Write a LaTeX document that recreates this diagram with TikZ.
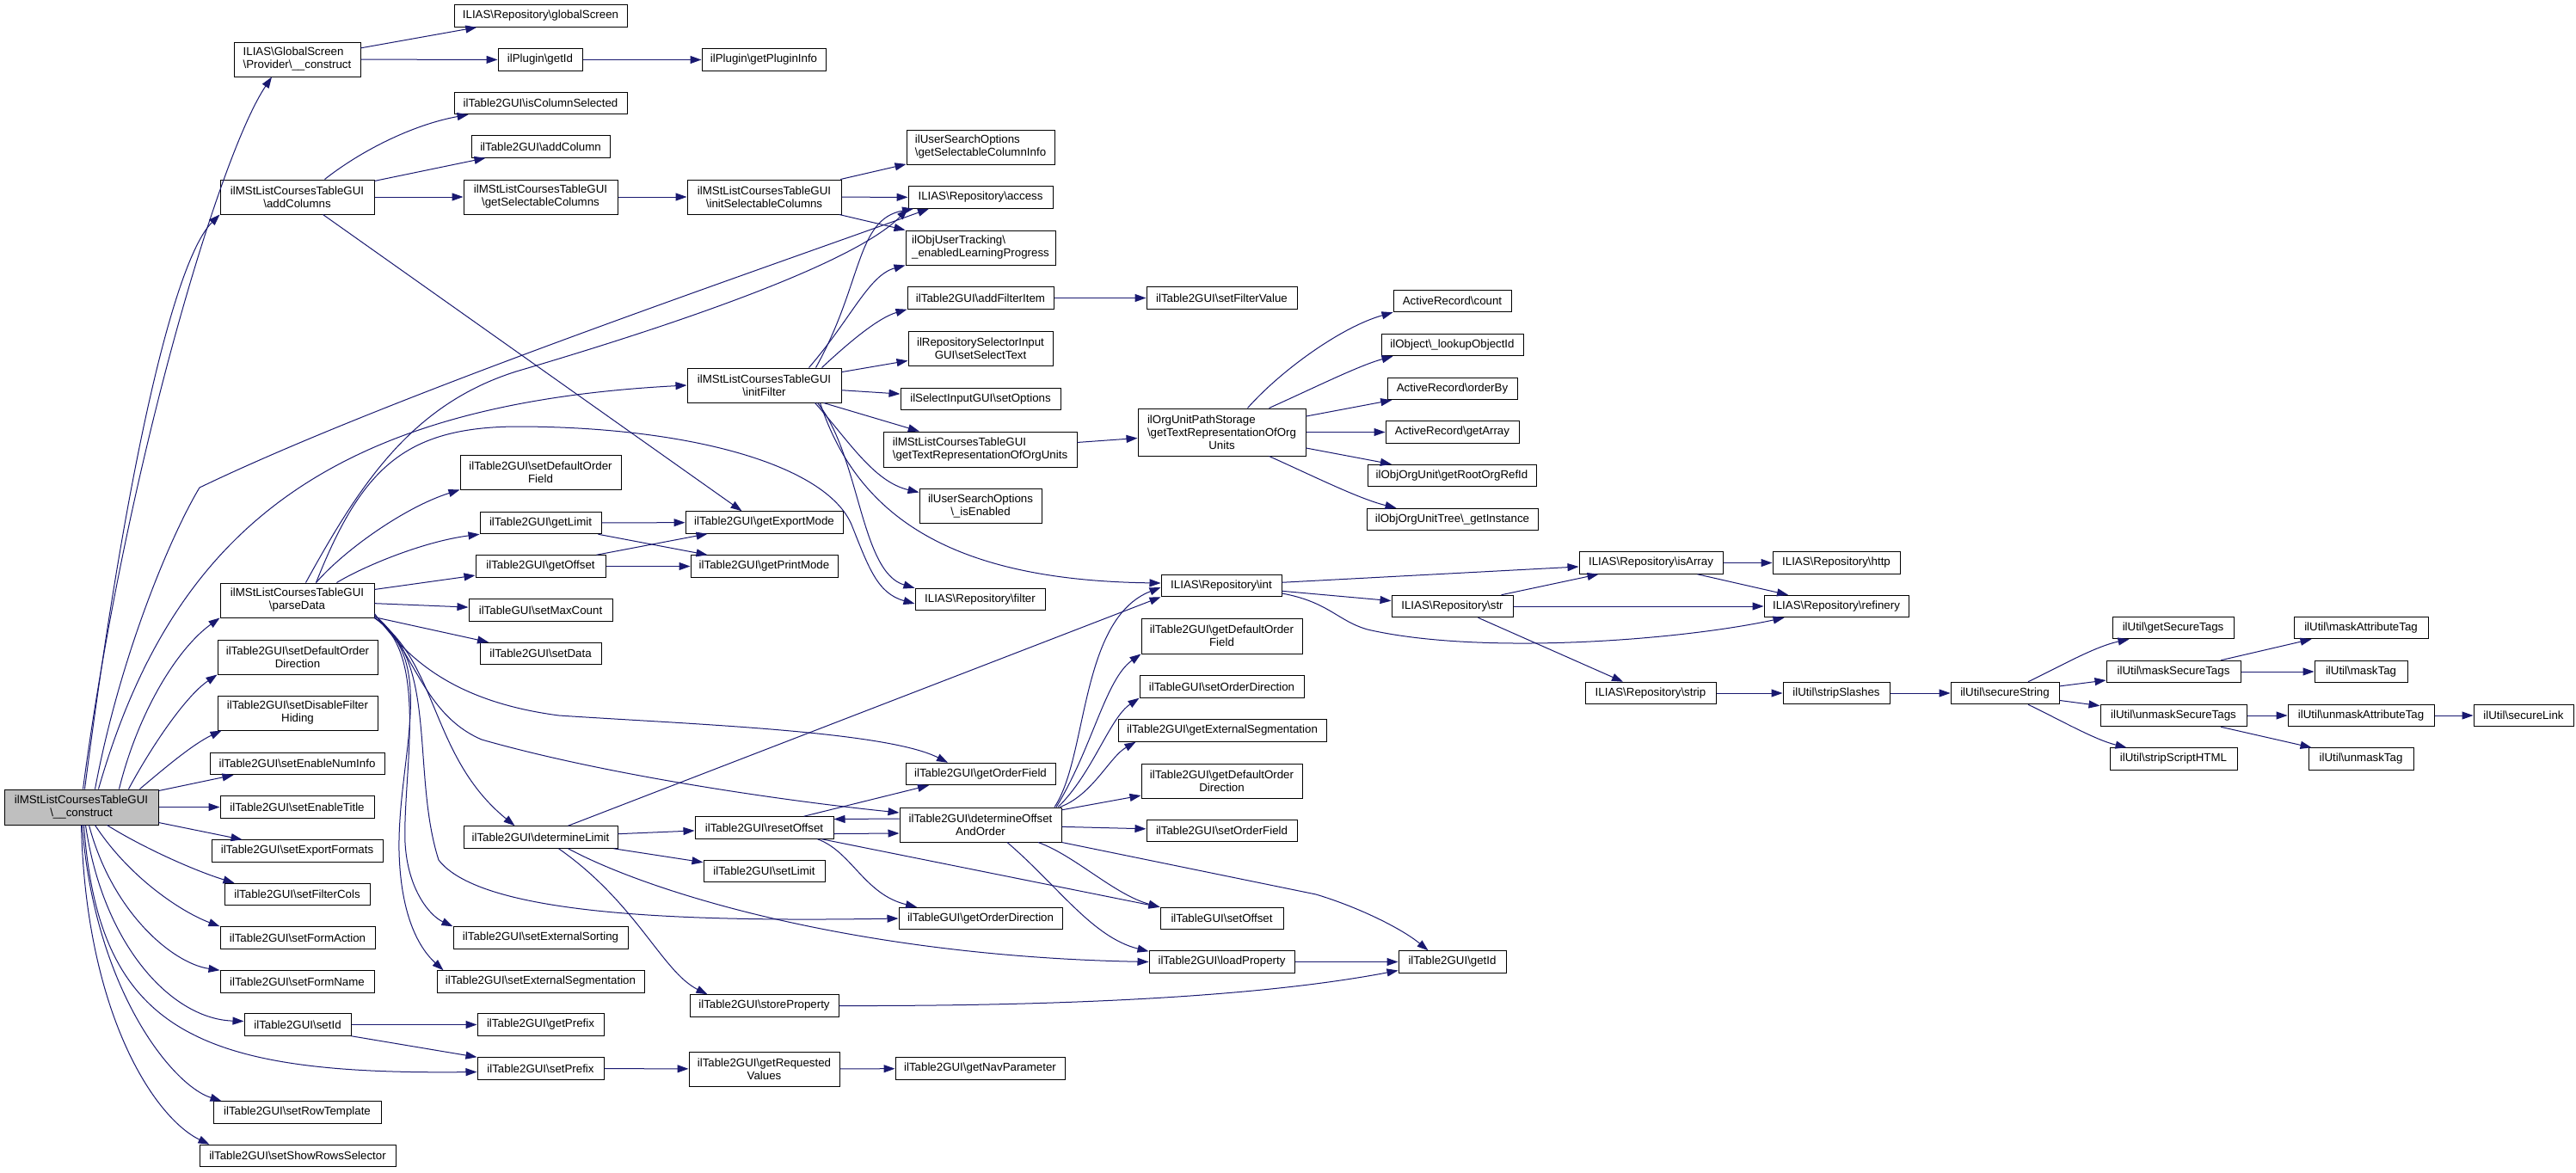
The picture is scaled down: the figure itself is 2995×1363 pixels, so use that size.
\documentclass[tikz,border=0pt]{standalone}
\usepackage{fontspec}
\setmainfont{Liberation Sans}
\usetikzlibrary{arrows.meta}
\definecolor{eb}{HTML}{191970}
\definecolor{rootgray}{HTML}{BFBFBF}
\newcommand{\BSL}{\textbackslash}
\newcommand{\nfont}{\fontsize{13.3}{15}\selectfont}
\tikzset{
  nd/.style={draw=black, line width=1pt, fill=white, inner sep=0pt, minimum height=25.5pt, font=\nfont, align=center},
  e/.style={draw=eb, line width=1pt, -{Triangle[length=13pt,width=9pt]}}
}
\newcommand\ND[5]{\node[nd,minimum width=#4pt] (#1) at (#2,-#3) {#5};}
\newcommand\NDB[6]{\node[nd,minimum width=#4pt,minimum height=#5pt] (#1) at (#2,-#3) {#6};}
\newcommand\NDL[6]{\node[nd,align=left,minimum width=#4pt,minimum height=#5pt] (#1) at (#2,-#3) {#6};}
\begin{document}
\begin{tikzpicture}[x=1pt,y=1pt]
\useasboundingbox (0,0) rectangle (2995,-1363);
\fill[white] (0,0) rectangle (2995,-1363);

% ---------- nodes ----------
\node[nd,fill=rootgray,minimum width=179pt,minimum height=41pt] (R) at (94.5,-938.5) {ilMStListCoursesTableGUI\\\BSL\_\_construct};
\NDL{prov}{345.5}{69}{147}{40}{ILIAS\BSL GlobalScreen\\\BSL Provider\BSL\_\_construct}
\ND{gscreen}{628.5}{18.5}{201}{ILIAS\BSL Repository\BSL globalScreen}
\ND{plgetid}{628}{69.5}{98}{ilPlugin\BSL getId}
\ND{plinfo}{888}{69.5}{144}{ilPlugin\BSL getPluginInfo}
\ND{iscolsel}{628.5}{120}{201}{ilTable2GUI\BSL isColumnSelected}
\ND{addcol}{628.5}{170.5}{161}{ilTable2GUI\BSL addColumn}
\NDB{addcols}{345.5}{229}{179}{40}{ilMStListCoursesTableGUI\\\BSL addColumns}
\NDB{getselcols}{628.5}{229}{179}{40}{ilMStListCoursesTableGUI\\\BSL getSelectableColumns}
\NDB{initselcols}{888.5}{229}{179}{40}{ilMStListCoursesTableGUI\\\BSL initSelectableColumns}
\NDL{selcolinfo}{1140}{171}{172}{40}{ilUserSearchOptions\\\BSL getSelectableColumnInfo}
\ND{access}{1140}{229.5}{168}{ILIAS\BSL Repository\BSL access}
\NDL{enlp}{1140}{288}{174}{40}{ilObjUserTracking\BSL\\\_enabledLearningProgress}
\ND{addfilter}{1140}{346.5}{170}{ilTable2GUI\BSL addFilterItem}
\ND{setfiltervalue}{1420.5}{346.5}{175}{ilTable2GUI\BSL setFilterValue}
\NDB{selecttext}{1140}{405}{168}{40}{ilRepositorySelectorInput\\GUI\BSL setSelectText}
\NDB{initfilter}{888.5}{448}{179}{40}{ilMStListCoursesTableGUI\\\BSL initFilter}
\ND{setoptions}{1140}{464}{186}{ilSelectInputGUI\BSL setOptions}
\NDL{msttext}{1139.5}{522.5}{225}{41}{ilMStListCoursesTableGUI\\\BSL getTextRepresentationOfOrgUnits}
\NDB{orgtext}{1420.5}{502.5}{195}{55}{\rlap{ilOrgUnitPathStorage}\phantom{\BSL getTextRepresentationOfOrg}\\\BSL getTextRepresentationOfOrg\\Units}
\ND{arcount}{1688.5}{350}{137}{ActiveRecord\BSL count}
\ND{lookupobj}{1688.5}{401}{165}{ilObject\BSL\_lookupObjectId}
\ND{orderby}{1688.5}{452}{151}{ActiveRecord\BSL orderBy}
\ND{getarray}{1688.5}{502.5}{155}{ActiveRecord\BSL getArray}
\ND{rootorg}{1688}{553}{196}{ilObjOrgUnit\BSL getRootOrgRefId}
\ND{orgtree}{1688.5}{604}{199}{ilObjOrgUnitTree\BSL\_getInstance}
\NDB{isenabled}{1140}{588}{142}{40}{ilUserSearchOptions\\\BSL\_isEnabled}
\ND{getexport}{888.5}{607.5}{183}{ilTable2GUI\BSL getExportMode}
\ND{getprint}{888.5}{658.5}{171}{ilTable2GUI\BSL getPrintMode}
\ND{filter}{1139.5}{697}{151}{ILIAS\BSL Repository\BSL filter}
\ND{int}{1420}{681}{140}{ILIAS\BSL Repository\BSL int}
\ND{isarray}{1919.5}{654.5}{167}{ILIAS\BSL Repository\BSL isArray}
\ND{http}{2135}{654.5}{148}{ILIAS\BSL Repository\BSL http}
\ND{str}{1688.5}{705}{141}{ILIAS\BSL Repository\BSL str}
\ND{refinery}{2135}{705}{168}{ILIAS\BSL Repository\BSL refinery}
\ND{strip}{1919}{806}{152}{ILIAS\BSL Repository\BSL strip}
\ND{stripslashes}{2135}{806}{124}{ilUtil\BSL stripSlashes}
\ND{securestring}{2331}{806}{126}{ilUtil\BSL secureString}
\ND{getsecuretags}{2526.5}{730}{141}{ilUtil\BSL getSecureTags}
\ND{masksecuretags}{2527}{781}{156}{ilUtil\BSL maskSecureTags}
\ND{unmasksecuretags}{2527}{832}{170}{ilUtil\BSL unmaskSecureTags}
\ND{stripscript}{2527}{882.5}{148}{ilUtil\BSL stripScriptHTML}
\ND{maskattr}{2745}{730}{156}{ilUtil\BSL maskAttributeTag}
\ND{masktag}{2745}{781}{108}{ilUtil\BSL maskTag}
\ND{unmaskattr}{2745}{832}{170}{ilUtil\BSL unmaskAttributeTag}
\ND{unmasktag}{2745}{882.5}{122}{ilUtil\BSL unmaskTag}
\ND{securelink}{2934}{832}{116}{ilUtil\BSL secureLink}
\NDB{setdeforderfield}{628.5}{549}{187}{40}{ilTable2GUI\BSL setDefaultOrder\\Field}
\ND{getlimit}{628.5}{608}{141}{ilTable2GUI\BSL getLimit}
\ND{getoffset}{628.5}{658.5}{151}{ilTable2GUI\BSL getOffset}
\NDB{parsedata}{345.5}{698}{179}{40}{ilMStListCoursesTableGUI\\\BSL parseData}
\ND{setmaxcount}{628.5}{709.5}{167}{ilTableGUI\BSL setMaxCount}
\ND{setdata}{628.5}{760}{141}{ilTable2GUI\BSL setData}
\NDB{setdeforderdir}{346}{764}{186}{40}{ilTable2GUI\BSL setDefaultOrder\\Direction}
\NDB{setdisfilter}{346}{829}{186}{40}{ilTable2GUI\BSL setDisableFilter\\Hiding}
\ND{setenablenum}{345.5}{888}{203}{ilTable2GUI\BSL setEnableNumInfo}
\ND{setenabletitle}{345.5}{938.5}{179}{ilTable2GUI\BSL setEnableTitle}
\ND{setexportformats}{345.5}{989.5}{199}{ilTable2GUI\BSL setExportFormats}
\ND{setfiltercols}{345.5}{1040}{169}{ilTable2GUI\BSL setFilterCols}
\ND{setformaction}{346}{1090.5}{180}{ilTable2GUI\BSL setFormAction}
\ND{setformname}{345.5}{1141.5}{179}{ilTable2GUI\BSL setFormName}
\ND{setid}{346}{1191.5}{124}{ilTable2GUI\BSL setId}
\ND{setrowtemplate}{345.5}{1293.5}{195}{ilTable2GUI\BSL setRowTemplate}
\ND{setshowrows}{346}{1344}{228}{ilTable2GUI\BSL setShowRowsSelector}
\ND{determinelimit}{628.5}{973.5}{179}{ilTable2GUI\BSL determineLimit}
\ND{setextsorting}{628.5}{1090.5}{203}{ilTable2GUI\BSL setExternalSorting}
\ND{setextseg}{628.5}{1141.5}{241}{ilTable2GUI\BSL setExternalSegmentation}
\ND{getprefix}{628.5}{1191.5}{147}{ilTable2GUI\BSL getPrefix}
\ND{setprefix}{628.5}{1242.5}{147}{ilTable2GUI\BSL setPrefix}
\ND{resetoffset}{888.5}{962.5}{161}{ilTable2GUI\BSL resetOffset}
\NDB{detoffset}{1140}{959}{188}{40}{ilTable2GUI\BSL determineOffset\\AndOrder}
\ND{setlimit}{888.5}{1013}{141}{ilTable2GUI\BSL setLimit}
\ND{getorderdir}{1140}{1068}{190}{ilTableGUI\BSL getOrderDirection}
\ND{setoffset}{1420.5}{1068}{143}{ilTableGUI\BSL setOffset}
\ND{setorderfield}{1420.5}{966}{175}{ilTable2GUI\BSL setOrderField}
\ND{loadprop}{1420.5}{1118.5}{169}{ilTable2GUI\BSL loadProperty}
\ND{storeprop}{888.5}{1169.5}{173}{ilTable2GUI\BSL storeProperty}
\NDB{getreqvalues}{888.5}{1243}{175}{40}{ilTable2GUI\BSL getRequested\\Values}
\ND{getnavparam}{1139.5}{1242.5}{197}{ilTable2GUI\BSL getNavParameter}
\ND{t2getid}{1688.5}{1118.5}{125}{ilTable2GUI\BSL getId}
\NDB{getdeforderfield}{1420.5}{739.5}{187}{41}{ilTable2GUI\BSL getDefaultOrder\\Field}
\ND{setorderdir}{1420.5}{798.5}{191}{ilTableGUI\BSL setOrderDirection}
\ND{getextseg}{1421}{849.5}{242}{ilTable2GUI\BSL getExternalSegmentation}
\NDB{getdeforderdir}{1420.5}{908}{187}{40}{ilTable2GUI\BSL getDefaultOrder\\Direction}
\ND{getorderfield}{1140}{900}{174}{ilTable2GUI\BSL getOrderField}

% ---------- edges from root ----------
\draw[e] ([xshift=2pt]R.north) .. controls (145,-550) and (255,-180) .. ([xshift=-29.5pt]prov.south);
\draw[e] ([xshift=4pt]R.north) .. controls (150,-520) and (205,-300) .. (addcols.south west);
\draw[e] ([xshift=16pt]R.north) .. controls (140,-760) and (200,-620) .. (232,-567) .. controls (450,-462) and (860,-322) .. ([xshift=-60pt]access.south);
\draw[e] ([xshift=20pt]R.north) .. controls (200,-620) and (380,-470) .. (initfilter.west);
\draw[e] ([xshift=44pt]R.north) .. controls (160,-830) and (205,-755) .. (parsedata.south west);
\draw[e] ([xshift=55pt]R.north) .. controls (175,-870) and (215,-810) .. (setdeforderdir.south west);
\draw[e] ([xshift=68pt]R.north) .. controls (195,-890) and (225,-865) .. ([xshift=5pt]setdisfilter.south west);
\draw[e] ([yshift=-2pt]R.north east) -- ([xshift=28pt]setenablenum.south west);
\draw[e] (R) -- (setenabletitle);
\draw[e] ([yshift=3pt]R.south east) -- ([xshift=36pt]setexportformats.north west);
\draw[e] ([xshift=30pt]R.south) .. controls (165,-985) and (225,-1012) .. ([xshift=12pt]setfiltercols.north west);
\draw[e] ([xshift=16pt]R.south) .. controls (150,-1020) and (210,-1060) .. (setformaction.north west);
\draw[e] ([xshift=9pt]R.south) .. controls (130,-1060) and (200,-1120) .. (setformname.north west);
\draw[e] ([xshift=5pt]R.south) .. controls (120,-1100) and (200,-1185) .. ([yshift=4pt]setid.west);
\draw[e] ([xshift=3pt]R.south) .. controls (115,-1200) and (230,-1250) .. ([yshift=-4pt]setprefix.west);
\draw[e] ([xshift=1pt]R.south) .. controls (110,-1150) and (200,-1262) .. ([xshift=10pt]setrowtemplate.north west);
\draw[e] (R.south) .. controls (100,-1180) and (180,-1300) .. ([xshift=12pt]setshowrows.north west);

% ---------- upper part ----------
\draw[e] (prov) -- (gscreen);
\draw[e] (prov) -- (plgetid);
\draw[e] (plgetid) -- (plinfo);
\draw[e] ([xshift=32pt]addcols.north) .. controls (420,-175) and (480,-145) .. ([xshift=17pt]iscolsel.south west);
\draw[e] (addcols) -- (addcol);
\draw[e] (addcols) -- (getselcols);
\draw[e] ([xshift=30pt]addcols.south) -- ([xshift=-26pt]getexport.north);
\draw[e] (getselcols) -- (initselcols);
\draw[e] (initselcols) -- (selcolinfo);
\draw[e] (initselcols) -- (access);
\draw[e] (initselcols) -- (enlp);

% ---------- initFilter ----------
\draw[e] ([xshift=60pt]initfilter.north) .. controls (1003,-330) and (995,-255) .. ([xshift=-78pt]access.south);
\draw[e] ([xshift=52pt]initfilter.north) .. controls (990,-370) and (1010,-320) .. (enlp.south west);
\draw[e] ([xshift=67pt]initfilter.north) .. controls (985,-400) and (1020,-370) .. (addfilter.south west);
\draw[e] (initfilter) -- (selecttext);
\draw[e] (initfilter) -- (setoptions);
\draw[e] (initfilter) -- (msttext);
\draw[e] ([xshift=59pt]initfilter.south) .. controls (985,-510) and (1015,-560) .. ([yshift=-5pt]isenabled.north west);
\draw[e] ([xshift=62pt]initfilter.south) .. controls (1000,-530) and (1000,-665) .. (filter.north west);
\draw[e] ([xshift=65pt]initfilter.south) .. controls (1000,-610) and (1120,-675) .. ([yshift=3pt]int.west);
\draw[e] (addfilter) -- (setfiltervalue);
\draw[e] (msttext) -- (orgtext);

% ---------- OrgUnitPathStorage ----------
\draw[e] ([xshift=30pt]orgtext.north) .. controls (1490,-430) and (1560,-380) .. (arcount.south west);
\draw[e] ([xshift=55pt]orgtext.north) .. controls (1530,-450) and (1580,-425) .. ([xshift=14pt]lookupobj.south west);
\draw[e] (orgtext) -- (orderby);
\draw[e] (orgtext) -- (getarray);
\draw[e] (orgtext) -- (rootorg);
\draw[e] ([xshift=55pt]orgtext.south) .. controls (1530,-555) and (1580,-580) .. ([xshift=35pt]orgtree.north west);

% ---------- Repository ----------
\draw[e] (int) -- (isarray);
\draw[e] (int) -- (str);
\draw[e] ([yshift=-9pt]int.east) .. controls (1545,-700) and (1555,-722) .. (1590,-732) .. controls (1720,-762) and (1950,-745) .. ([xshift=24pt]refinery.south west);
\draw[e] ([xshift=57pt]str.north) -- ([xshift=23pt]isarray.south west);
\draw[e] (str) -- (refinery);
\draw[e] ([xshift=30pt]str.south) -- ([xshift=-32pt]strip.north);
\draw[e] (isarray) -- (http);
\draw[e] ([xshift=54pt]isarray.south) -- ([xshift=-56pt]refinery.north);
\draw[e] (strip) -- (stripslashes);
\draw[e] (stripslashes) -- (securestring);

% ---------- ilUtil ----------
\draw[e] ([xshift=27pt]securestring.north) .. controls (2395,-775) and (2435,-752) .. ([xshift=20pt]getsecuretags.south west);
\draw[e] (securestring) -- (masksecuretags);
\draw[e] (securestring) -- (unmasksecuretags);
\draw[e] ([xshift=27pt]securestring.south) .. controls (2395,-837) and (2435,-860) .. ([xshift=20pt]stripscript.north west);
\draw[e] ([xshift=55pt]masksecuretags.north) -- ([xshift=21pt]maskattr.south west);
\draw[e] (masksecuretags) -- (masktag);
\draw[e] (unmasksecuretags) -- (unmaskattr);
\draw[e] ([xshift=55pt]unmasksecuretags.south) -- ([xshift=4pt]unmasktag.north west);
\draw[e] (unmaskattr) -- (securelink);

% ---------- parseData ----------
\draw[e] ([xshift=10pt]parsedata.north) .. controls (420,-560) and (480,-470) .. (600,-432) .. controls (760,-385) and (990,-310) .. (access.south west);
\draw[e] ([xshift=22pt]parsedata.north) .. controls (420,-545) and (470,-497) .. (600,-496) .. controls (800,-496) and (960,-540) .. (990,-610) .. controls (1010,-660) and (1020,-690) .. ([yshift=-5pt]filter.west);
\draw[e] ([xshift=22pt]parsedata.north) .. controls (400,-640) and (470,-590) .. (setdeforderfield.south west);
\draw[e] ([xshift=46pt]parsedata.north) .. controls (420,-660) and (490,-630) .. (getlimit.south west);
\draw[e] (parsedata) -- (getoffset);
\draw[e] (parsedata) -- (setmaxcount);
\draw[e] (parsedata) -- (setdata);
\draw[e] ([yshift=5pt]parsedata.south east) .. controls (470,-760) and (520,-815) .. (650,-832) .. controls (800,-842) and (1030,-850) .. ([xshift=-38pt]getorderfield.north);
\draw[e] ([yshift=3pt]parsedata.south east) .. controls (480,-750) and (490,-830) .. (560,-860) .. controls (700,-900) and (900,-930) .. ([yshift=14pt]detoffset.west);
\draw[e] (parsedata.south east) .. controls (510,-770) and (500,-880) .. ([xshift=-30pt]determinelimit.north);
\draw[e] (parsedata.south east) .. controls (500,-760) and (468,-900) .. (471,-980) .. controls (474,-1035) and (500,-1065) .. (setextsorting.north west);
\draw[e] (parsedata.south east) .. controls (510,-770) and (462,-880) .. (464,-990) .. controls (466,-1070) and (490,-1105) .. ([xshift=8pt]setextseg.north west);
\draw[e] (parsedata.south east) .. controls (510,-765) and (478,-900) .. (510,-1000) .. controls (560,-1065) and (800,-1072) .. (getorderdir.west);
\draw[e] (getlimit) -- (getexport);
\draw[e] ([xshift=67pt]getlimit.south) -- ([xshift=-66pt]getprint.north);
\draw[e] ([xshift=65pt]getoffset.north) -- ([xshift=-66pt]getexport.south);
\draw[e] (getoffset) -- (getprint);

% ---------- determineLimit ----------
\draw[e] ([xshift=32pt]determinelimit.north) -- (int.south west);
\draw[e] (determinelimit) -- (resetoffset);
\draw[e] ([xshift=-5pt]determinelimit.south east) -- ([yshift=-3pt]setlimit.north west);
\draw[e] ([xshift=32pt]determinelimit.south) .. controls (760,-1040) and (1000,-1112) .. (loadprop.west);
\draw[e] ([xshift=21pt]determinelimit.south) .. controls (740,-1050) and (770,-1130) .. ([xshift=-66pt]storeprop.north);

% ---------- resetOffset ----------
\draw[e] ([yshift=-7pt]resetoffset.east) -- ([yshift=-10pt]detoffset.west);
\draw[e] ([yshift=7pt]detoffset.west) -- ([yshift=10pt]resetoffset.east);
\draw[e] ([xshift=46pt]resetoffset.north) -- ([xshift=-60pt]getorderfield.south);
\draw[e] ([xshift=62pt]resetoffset.south) .. controls (990,-990) and (1005,-1040) .. ([xshift=-74pt]getorderdir.north);
\draw[e] ([xshift=67pt]resetoffset.south) -- (setoffset.north west);

% ---------- determineOffsetAndOrder ----------
\draw[e] ([xshift=86pt]detoffset.north) .. controls (1265,-880) and (1255,-720) .. ([yshift=-2pt]int.west);
\draw[e] ([xshift=88pt]detoffset.north) .. controls (1270,-870) and (1285,-790) .. (getdeforderfield.south west);
\draw[e] ([xshift=90pt]detoffset.north) .. controls (1270,-900) and (1290,-835) .. (setorderdir.south west);
\draw[e] ([xshift=92pt]detoffset.north) .. controls (1270,-925) and (1290,-880) .. ([xshift=21pt]getextseg.south west);
\draw[e] (detoffset) -- (getdeforderdir);
\draw[e] (detoffset) -- (setorderfield);
\draw[e] ([xshift=67pt]detoffset.south) .. controls (1250,-995) and (1295,-1040) .. (setoffset.north west);
\draw[e] ([xshift=31pt]detoffset.south) .. controls (1230,-1030) and (1270,-1090) .. ([yshift=-1pt]loadprop.north west);
\draw[e] (detoffset.south east) -- (1530,-1040) .. controls (1580,-1055) and (1630,-1080) .. ([xshift=-28pt]t2getid.north);
\draw[e] (loadprop) -- (t2getid);
\draw[e] (storeprop.east) .. controls (1200,-1170) and (1450,-1162) .. ([yshift=-10pt]t2getid.west);

% ---------- setId / setPrefix ----------
\draw[e] (setid) -- (getprefix);
\draw[e] (setid.south east) -- (setprefix.north west);
\draw[e] (setprefix) -- (getreqvalues);
\draw[e] (getreqvalues) -- (getnavparam);
\end{tikzpicture}
\end{document}
